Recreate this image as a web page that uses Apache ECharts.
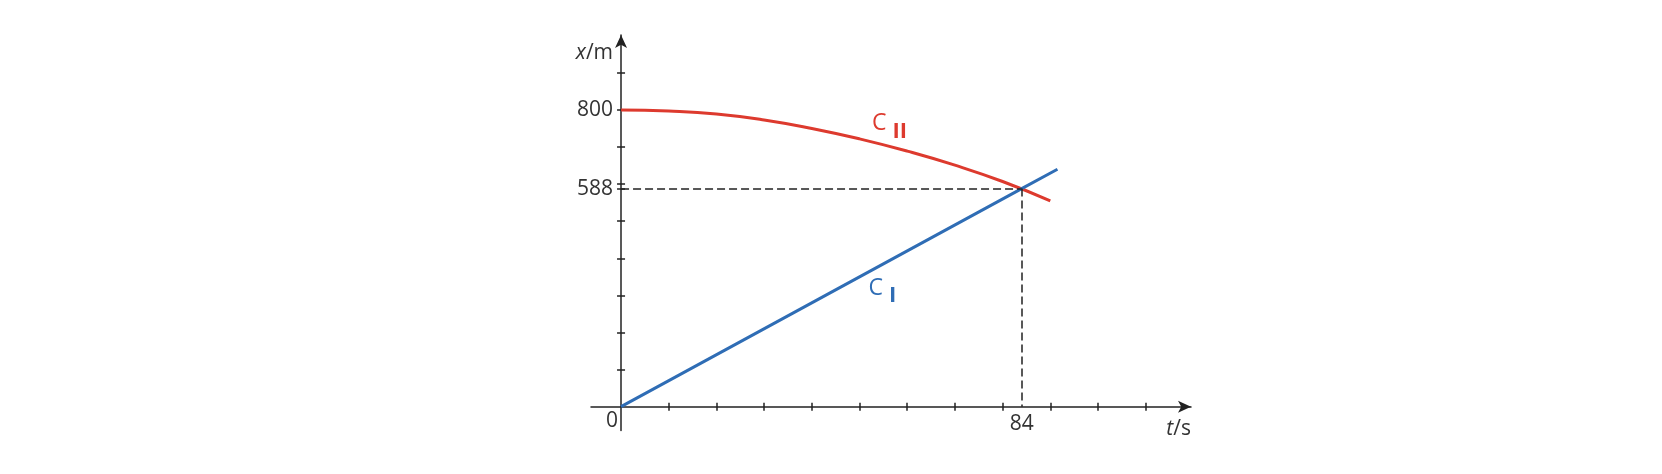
<!DOCTYPE html>
<html>
<head>
<meta charset="utf-8">
<script src="https://cdn.jsdelivr.net/npm/echarts@6/dist/echarts.min.js"></script>
<style>
html,body{margin:0;padding:0;background:#fff;}
#chart{width:1662px;height:474px;}
</style>
</head>
<body>
<div id="chart"></div>
<script>
// ---- data ----
const blueT = [0, 84, 91.5];
const blueX = [0, 588, 640];
const redT = [0, 10, 20, 30, 40, 50, 60, 70, 80, 90];
const redX = [800, 797, 789, 773, 750, 722, 689, 651, 607, 555];
const meetT = 84;
const meetX = 588;
const xTickValues = [10, 20, 30, 40, 50, 60, 70, 80, 90, 100, 110];
const yTickValues = [100, 200, 300, 400, 500, 600, 700, 800, 900, 588];
const xLabelValues = [0, 84];
const yLabelValues = [800, 588];

const FONT = '"Open Sans", "Noto Sans", sans-serif';
const AX = '#222';
const TXT = '#333';
const RED = '#dd3a2e';
const BLUE = '#2f6db5';

const blueData = blueT.map((t, i) => [t, blueX[i]]);
const redData = redT.map((t, i) => [t, redX[i]]);

const xRange = { min: -6.3, max: 119.5 };
const yRange = { min: -64, max: 1002 };

function xAxisBase(extra) {
  return Object.assign({
    type: 'value', min: xRange.min, max: xRange.max,
    splitLine: { show: false },
    axisLine: { onZero: true, lineStyle: { color: AX, width: 1.5 } }
  }, extra);
}
function yAxisBase(extra) {
  return Object.assign({
    type: 'value', min: yRange.min, max: yRange.max,
    splitLine: { show: false },
    axisLine: { onZero: true, lineStyle: { color: AX, width: 1.5 } }
  }, extra);
}

const chart = echarts.init(document.getElementById('chart'), null, { renderer: 'canvas' });
chart.setOption({
  animation: false,
  backgroundColor: '#fff',
  grid: { left: 591, right: 1662 - 1191, top: 35, bottom: 43.6, containLabel: false },
  xAxis: [
    xAxisBase({
      position: 'bottom',
      axisLine: { onZero: true, symbol: ['none', 'arrow'], symbolSize: [9, 13], lineStyle: { color: AX, width: 1.5 } },
      axisTick: { show: true, inside: false, length: 4, customValues: xTickValues, lineStyle: { color: AX, width: 1.5 } },
      axisLabel: {
        show: true, customValues: xLabelValues, margin: -19.7,
        fontFamily: FONT, fontSize: 21, color: TXT,
        formatter: v => v === 0 ? '{z|0}' : '{n|' + v + '}',
        rich: {
          z: { fontFamily: FONT, fontSize: 21, color: TXT, padding: [0, 18, 0, 0] },
          n: { fontFamily: FONT, fontSize: 21, color: TXT, padding: [3, 0, 0, 0] }
        }
      },
      name: '{i|t}/s',
      nameLocation: 'end',
      nameGap: 0,
      nameTextStyle: {
        fontFamily: FONT, fontSize: 21, color: TXT, align: 'right', verticalAlign: 'top',
        padding: [12, 0, 0, 0],
        rich: { i: { fontFamily: FONT, fontSize: 21, color: TXT, fontStyle: 'italic' } }
      }
    }),
    xAxisBase({
      position: 'bottom',
      axisLine: { show: false, onZero: true },
      axisTick: { show: true, inside: true, length: 4, customValues: xTickValues, lineStyle: { color: AX, width: 1.5 } },
      axisLabel: { show: false }
    })
  ],
  yAxis: [
    yAxisBase({
      position: 'left',
      axisLine: { onZero: true, symbol: ['none', 'arrow'], symbolSize: [9, 13], lineStyle: { color: AX, width: 1.5 } },
      axisTick: { show: true, inside: false, length: 4, customValues: yTickValues, lineStyle: { color: AX, width: 1.5 } },
      axisLabel: {
        show: true, customValues: yLabelValues, margin: -22,
        fontFamily: FONT, fontSize: 21, color: TXT
      },
      name: '{i|x}/m',
      nameLocation: 'end',
      nameGap: -18,
      nameTextStyle: {
        fontFamily: FONT, fontSize: 21, color: TXT, align: 'right', verticalAlign: 'middle',
        padding: [0, 8, 0, 0],
        rich: { i: { fontFamily: FONT, fontSize: 21, color: TXT, fontStyle: 'italic' } }
      }
    }),
    yAxisBase({
      position: 'left',
      axisLine: { show: false, onZero: true },
      axisTick: { show: true, inside: true, length: 4, customValues: yTickValues, lineStyle: { color: AX, width: 1.5 } },
      axisLabel: { show: false }
    })
  ],
  series: [
    {
      name: 'C I', type: 'line', xAxisIndex: 0, yAxisIndex: 0,
      data: blueData, showSymbol: false, symbol: 'none',
      lineStyle: { color: BLUE, width: 3 }, z: 3,
      markLine: {
        silent: true, symbol: ['none', 'none'],
        lineStyle: { color: AX, width: 1.5, type: [8, 4] },
        label: { show: false },
        data: [
          [{ coord: [0, meetX] }, { coord: [meetT, meetX] }],
          [{ coord: [meetT, meetX] }, { coord: [meetT, 0] }]
        ]
      },
      markPoint: {
        silent: true, symbolSize: 0,
        data: [{ coord: [54.8, 309] }],
        label: {
          show: true, position: 'inside',
          formatter: '{c|C}{s|I}',
          rich: {
            c: { fontFamily: FONT, fontSize: 23, color: BLUE, padding: [0, 6, 7, 0], verticalAlign: 'bottom' },
            s: { fontFamily: FONT, fontSize: 22, fontWeight: 'bold', color: BLUE, verticalAlign: 'bottom' }
          }
        }
      }
    },
    {
      name: 'C II', type: 'line', xAxisIndex: 0, yAxisIndex: 0,
      data: redData, showSymbol: false, symbol: 'none', smooth: 0.5,
      lineStyle: { color: RED, width: 3 }, z: 2,
      markPoint: {
        silent: true, symbolSize: 0,
        data: [{ coord: [56.3, 753] }],
        label: {
          show: true, position: 'inside',
          formatter: '{c|C}{s|II}',
          rich: {
            c: { fontFamily: FONT, fontSize: 23, color: RED, padding: [0, 6, 7, 0], verticalAlign: 'bottom' },
            s: { fontFamily: FONT, fontSize: 22, fontWeight: 'bold', color: RED, verticalAlign: 'bottom' }
          }
        }
      }
    }
  ]
});
</script>
</body>
</html>
